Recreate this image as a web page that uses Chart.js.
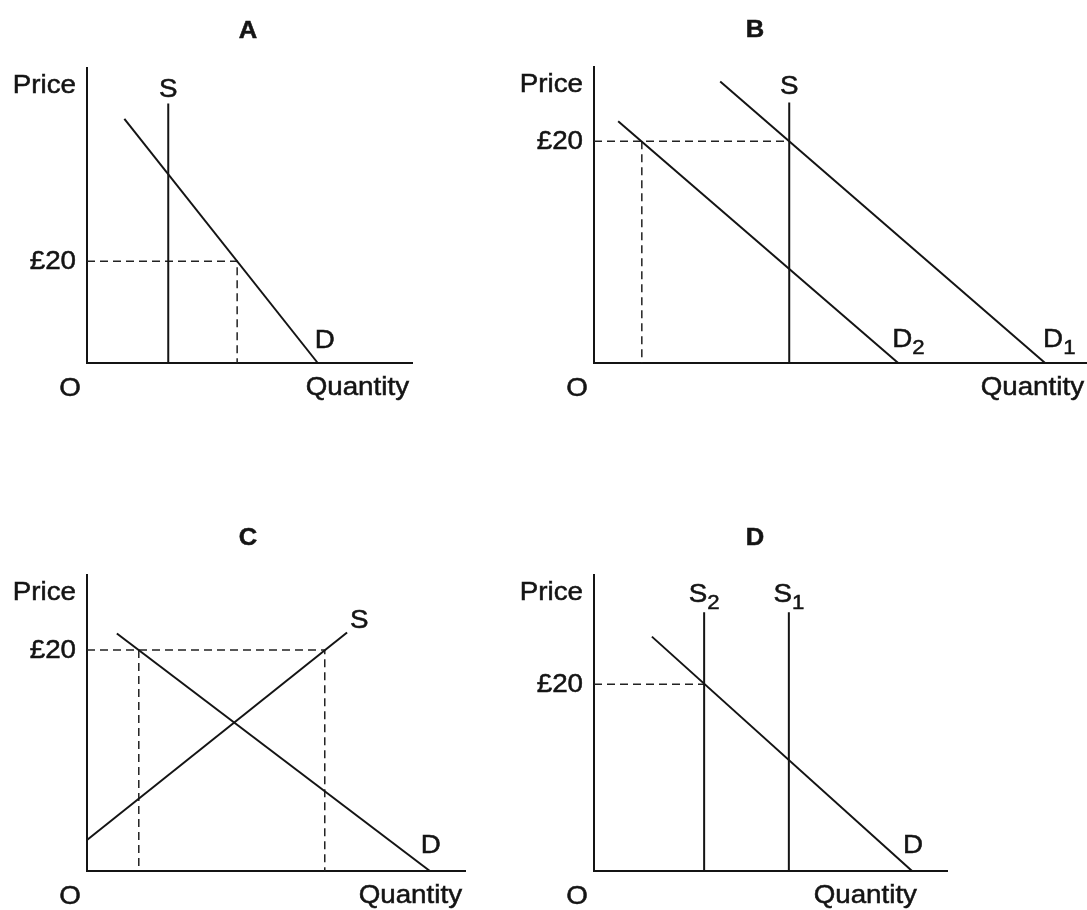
<!DOCTYPE html>
<html>
<head>
<meta charset="utf-8">
<title>Price and quantity diagrams</title>
<script src="https://cdn.jsdelivr.net/npm/chart.js"></script>
<style>
    html, body { margin: 0; padding: 0; background: #fff; }
    #wrap { position: relative; width: 1087px; height: 910px; overflow: hidden; }
    #wrap canvas { position: absolute; left: 0; top: 0; }
</style>
</head>
<body>
<div id="wrap">
    <canvas id="chartA" width="1087" height="910"></canvas>
    <canvas id="chartB" width="1087" height="910"></canvas>
    <canvas id="chartC" width="1087" height="910"></canvas>
    <canvas id="chartD" width="1087" height="910"></canvas>
</div>
<script>
// 标题和坐标轴文字
var panelTitles = ['A', 'B', 'C', 'D'];
var priceLabel = 'Price';
var quantityLabel = 'Quantity';
var originLabel = 'O';
var priceTick = 20;
var priceTickLabel = '£20';

// A: 供给固定
var aSupply = [{ x: 25, y: 0 }, { x: 25, y: 51 }];
var aDemand = [{ x: 11.5, y: 48 }, { x: 71, y: 0 }];
var aGuide = [{ x: 0, y: 20 }, { x: 46.2, y: 20 }, { x: 46.2, y: 0 }];

// B: 需求左移
var bSupply = [{ x: 39.6, y: 0 }, { x: 39.6, y: 23.5 }];
var bDemand1 = [{ x: 25.6, y: 25.4 }, { x: 91.5, y: 0 }];
var bDemand2 = [{ x: 4.9, y: 21.8 }, { x: 61.7, y: 0 }];
var bGuide = [{ x: 0, y: 20 }, { x: 39.6, y: 20 }];
var bGuide2 = [{ x: 9.7, y: 20 }, { x: 9.7, y: 0 }];

// C: 价格高于均衡
var cSupply = [{ x: 0, y: 2.8 }, { x: 68.8, y: 21.6 }];
var cDemand = [{ x: 7.9, y: 21.5 }, { x: 90.7, y: 0 }];
var cGuide = [{ x: 0, y: 20 }, { x: 62.9, y: 20 }, { x: 62.9, y: 0 }];
var cGuide2 = [{ x: 13.7, y: 20 }, { x: 13.7, y: 0 }];

// D: 供给左移
var dSupply1 = [{ x: 55.2, y: 0 }, { x: 55.2, y: 27.7 }];
var dSupply2 = [{ x: 31.2, y: 0 }, { x: 31.2, y: 27.7 }];
var dDemand = [{ x: 16.4, y: 25.1 }, { x: 90.1, y: 0 }];
var dGuide = [{ x: 0, y: 20 }, { x: 31.2, y: 20 }];

var INK = '#141414';
var FONT = '"Liberation Sans", Arial, sans-serif';
var STRETCH = 1.11;

// 面板配置
var panels = [
    {
        canvas: 'chartA', title: panelTitles[0],
        frame: { left: 87, top: 68, right: 412, bottom: 363 },
        xMax: 100, yMax: 58,
        solid: [aSupply, aDemand],
        dashed: [aGuide],
        curveLabels: [
            { text: 'S', at: aSupply[1], align: 'center', dx: 0, dy: -7 },
            { text: 'D', at: aDemand[1], align: 'left', dx: -3, dy: -15 }
        ]
    },
    {
        canvas: 'chartB', title: panelTitles[1],
        frame: { left: 594, top: 67, right: 1087, bottom: 363 },
        xMax: 100, yMax: 26.7,
        solid: [bSupply, bDemand1, bDemand2],
        dashed: [bGuide, bGuide2],
        curveLabels: [
            { text: 'S', at: bSupply[1], align: 'center', dx: 0, dy: -8 },
            { text: 'D', sub: '1', at: bDemand1[1], align: 'left', dx: -2, dy: -16 },
            { text: 'D', sub: '2', at: bDemand2[1], align: 'left', dx: -6, dy: -16 }
        ]
    },
    {
        canvas: 'chartC', title: panelTitles[2],
        frame: { left: 87, top: 575, right: 465, bottom: 871 },
        xMax: 100, yMax: 26.8,
        solid: [cSupply, cDemand],
        dashed: [cGuide, cGuide2],
        curveLabels: [
            { text: 'S', at: cSupply[1], align: 'left', dx: 3, dy: -4 },
            { text: 'D', at: cDemand[1], align: 'left', dx: -9, dy: -18 }
        ]
    },
    {
        canvas: 'chartD', title: panelTitles[3],
        frame: { left: 594, top: 575, right: 947, bottom: 871 },
        xMax: 100, yMax: 31.7,
        quantityAt: 91.5,
        solid: [dSupply1, dSupply2, dDemand],
        dashed: [dGuide],
        curveLabels: [
            { text: 'S', sub: '2', at: dSupply2[1], align: 'center', dx: 0, dy: -10 },
            { text: 'S', sub: '1', at: dSupply1[1], align: 'center', dx: 0, dy: -10 },
            { text: 'D', at: dDemand[1], align: 'left', dx: -9, dy: -18 }
        ]
    }
];

// 横向略微拉伸的文字，描一点边让笔画更粗
function drawText(ctx, parts, x, baseline, align) {
    var total = 0;
    for (var i = 0; i < parts.length; i++) {
        ctx.font = parts[i].font;
        parts[i].w = ctx.measureText(parts[i].text).width * STRETCH;
        total += parts[i].w;
    }
    var left = x;
    if (align === 'right') left = x - total;
    if (align === 'center') left = x - total / 2;
    for (var j = 0; j < parts.length; j++) {
        var p = parts[j];
        ctx.save();
        ctx.font = p.font;
        ctx.fillStyle = INK;
        ctx.strokeStyle = INK;
        ctx.lineWidth = 0.5;
        ctx.textAlign = 'left';
        ctx.textBaseline = 'alphabetic';
        ctx.translate(left, baseline + (p.dy || 0));
        ctx.scale(STRETCH, 1);
        ctx.fillText(p.text, 0, 0);
        ctx.strokeText(p.text, 0, 0);
        ctx.restore();
        left += p.w;
    }
}

function labelParts(text, sub) {
    var parts = [{ text: text, font: '25px ' + FONT }];
    if (sub) parts.push({ text: sub, font: '20px ' + FONT, dy: 7 });
    return parts;
}

// 文字标注插件
function makeLabelPlugin(panel) {
    return {
        id: 'econLabels',
        afterDraw: function(chart) {
            var ctx = chart.ctx;
            var area = chart.chartArea;
            var xs = chart.scales.x;
            var ys = chart.scales.y;

            drawText(ctx, [{ text: panel.title, font: 'bold 23px ' + FONT }], area.left + 161, area.top - 30, 'center');
            drawText(ctx, labelParts(priceLabel), area.left - 11, area.top + 25, 'right');
            drawText(ctx, labelParts(priceTickLabel), area.left - 11, ys.getPixelForValue(priceTick) + 8, 'right');
            drawText(ctx, labelParts(originLabel), area.left - 17, area.bottom + 33, 'center');

            var qRight = panel.quantityAt != null ? xs.getPixelForValue(panel.quantityAt) : area.right - 3;
            drawText(ctx, labelParts(quantityLabel), qRight, area.bottom + 32, 'right');

            for (var i = 0; i < panel.curveLabels.length; i++) {
                var lb = panel.curveLabels[i];
                var px = xs.getPixelForValue(lb.at.x) + lb.dx;
                var py = ys.getPixelForValue(lb.at.y) + lb.dy;
                drawText(ctx, labelParts(lb.text, lb.sub), px, py, lb.align);
            }
        }
    };
}

function buildChart(panel) {
    var ctx = document.getElementById(panel.canvas);
    var datasets = [];
    for (var i = 0; i < panel.solid.length; i++) {
        datasets.push({
            data: panel.solid[i],
            showLine: true,
            borderColor: INK,
            borderWidth: 2,
            pointRadius: 0,
            fill: false,
            clip: false
        });
    }
    for (var j = 0; j < panel.dashed.length; j++) {
        datasets.push({
            data: panel.dashed[j],
            showLine: true,
            borderColor: '#222',
            borderWidth: 1.5,
            borderDash: [8, 5],
            pointRadius: 0,
            fill: false,
            clip: false
        });
    }

    var f = panel.frame;
    var axis = function(max) {
        return {
            type: 'linear',
            min: 0,
            max: max,
            grid: { display: false, drawTicks: false },
            ticks: { display: false },
            border: { display: true, color: INK, width: 2 }
        };
    };

    try {
        return new Chart(ctx, {
            type: 'scatter',
            data: { datasets: datasets },
            options: {
                responsive: false,
                animation: false,
                events: [],
                layout: {
                    autoPadding: false,
                    padding: { left: f.left, top: f.top, right: 1087 - f.right, bottom: 910 - f.bottom }
                },
                plugins: {
                    legend: { display: false },
                    tooltip: { enabled: false }
                },
                scales: {
                    x: axis(panel.xMax),
                    y: axis(panel.yMax)
                }
            },
            plugins: [makeLabelPlugin(panel)]
        });
    } catch (error) {
        console.error('创建图表时出错:', error);
    }
}

for (var k = 0; k < panels.length; k++) {
    buildChart(panels[k]);
}
</script>
</body>
</html>
